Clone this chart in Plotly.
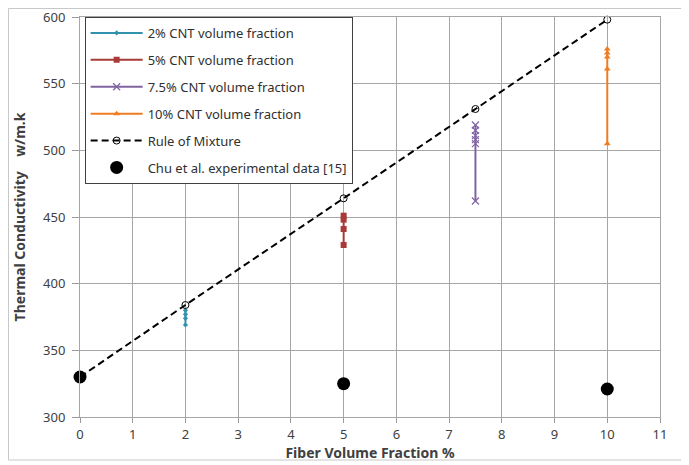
import plotly.graph_objects as go

x_2 = [2, 2, 2, 2]
y_2 = [380, 377, 374, 369]
x_5 = [5, 5, 5, 5]
y_5 = [451, 448, 441, 429]
x_75 = [7.5, 7.5, 7.5, 7.5, 7.5, 7.5]
y_75 = [519, 515, 511, 508, 505, 462]
x_10 = [10, 10, 10, 10, 10]
y_10 = [576, 573, 570, 561, 505]
x_rom = [0, 2, 5, 7.5, 10]
y_rom = [330, 384, 464, 531, 598]
x_chu = [0, 5, 10]
y_chu = [330, 325, 321]
x_ticks = list(range(0, 12))
y_ticks = [300, 350, 400, 450, 500, 550, 600]

font = "Noto Sans"
fig = go.Figure()
fig.add_trace(go.Scatter(x=x_2, y=y_2, mode="lines+markers", name="2% CNT volume fraction",
                         legendgroup="a",
                         line=dict(color="#3291AD", width=2),
                         marker=dict(symbol="diamond", size=4, color="#3291AD")))
fig.add_trace(go.Scatter(x=x_5, y=y_5, mode="lines+markers", name="5% CNT volume fraction",
                         legendgroup="b",
                         line=dict(color="#A83A38", width=2),
                         marker=dict(symbol="square", size=6, color="#A83A38")))
fig.add_trace(go.Scatter(x=x_75, y=y_75, mode="lines+markers", name="7.5% CNT volume fraction",
                         legendgroup="c",
                         line=dict(color="#8064A2", width=2),
                         marker=dict(symbol="x-thin", size=7, color="#8064A2",
                                     line=dict(color="#8064A2", width=1.2))))
fig.add_trace(go.Scatter(x=x_10, y=y_10, mode="lines+markers", name="10% CNT volume fraction",
                         legendgroup="d",
                         line=dict(color="#F07C22", width=2),
                         marker=dict(symbol="triangle-up", size=6, color="#F07C22")))
fig.add_trace(go.Scatter(x=x_rom, y=y_rom, mode="lines+markers", name="Rule of Mixture",
                         legendgroup="e",
                         line=dict(color="black", width=2, dash="7px,4px"),
                         marker=dict(symbol="circle-open", size=7, color="black",
                                     line=dict(color="black", width=1))))
fig.add_trace(go.Scatter(x=x_chu, y=y_chu, mode="markers", name="Chu et al. experimental data [15]",
                         legendgroup="f",
                         marker=dict(symbol="circle", size=13, color="black")))

fig.update_layout(
    width=681, height=457,
    margin=dict(l=72, r=29, t=9, b=48),
    paper_bgcolor="white", plot_bgcolor="white",
    font=dict(family=font, size=12, color="#404040"),
    showlegend=True,
    legend=dict(x=0.008, y=1.0, xanchor="left", yanchor="top",
                bgcolor="white", bordercolor="#404040", borderwidth=1,
                font=dict(family=font, size=13, color="#303030"),
                tracegroupgap=7, itemwidth=52),
    xaxis=dict(range=[0, 11], tickvals=x_ticks, ticks="outside", ticklen=5,
               tickcolor="#999999", showgrid=True, gridcolor="#A6A6A6", gridwidth=1,
               showline=True, linecolor="#A6A6A6", mirror=True, zeroline=False,
               tickfont=dict(size=13, color="#404040"), ticklabeloverflow="allow",
               automargin=False,
               title=dict(text="<b>Fiber Volume Fraction %</b>", standoff=0,
                          font=dict(size=14, color="#404040"))),
    yaxis=dict(range=[300, 600], tickvals=y_ticks, ticks="outside", ticklen=7,
               tickcolor="#999999", showgrid=True, gridcolor="#A6A6A6", gridwidth=1,
               showline=True, linecolor="#A6A6A6", mirror=True, zeroline=False,
               tickfont=dict(size=13, color="#404040"), ticklabeloverflow="allow",
               ticklabelstandoff=4, automargin=False,
               title=dict(text="<b>Thermal Conductivity    w/m.k</b>", standoff=14,
                          font=dict(size=14, color="#404040"))),
)
fig.add_shape(type="rect", xref="paper", yref="paper",
              x0=(0.5 - 72) / 580, x1=(679 - 72) / 580,
              y0=-(452 - 409) / 400, y1=1 + 8.5 / 400,
              line=dict(color="#C8C8C8", width=1), layer="below")
for tr in fig.data:
    tr.cliponaxis = False
fig.write_html("out.html")
